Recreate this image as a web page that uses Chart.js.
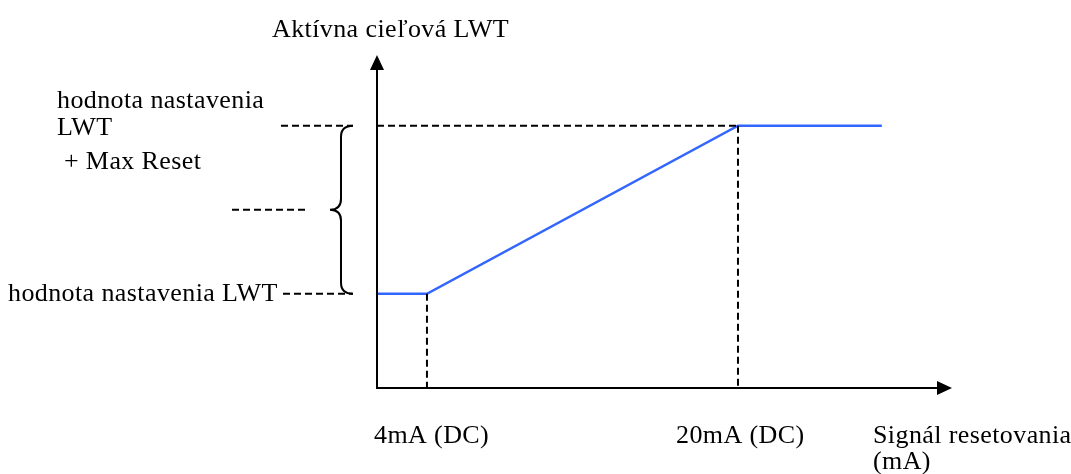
<!doctype html>
<html lang="sk">
<head>
    <meta charset="UTF-8">
    <script src="https://cdn.jsdelivr.net/npm/chart.js"></script>
    <title>Aktívna cieľová LWT</title>
    <style>
        html, body { margin: 0; padding: 0; background: #fff; }
    </style>
</head>
<body>
    <canvas id="chart" width="1071" height="474"></canvas>
    <script>
        // signal in mA, LWT as fraction of max reset (0 = setpoint, 1 = setpoint + max reset)
        const signal = [1.43, 4, 20, 27.4];
        const lwt = [0, 0, 1, 1];
        const xTicks = ['4mA (DC)', '20mA (DC)'];
        const xTickValues = [4, 20];
        const yLabels = [['hodnota nastavenia', 'LWT', ' + Max Reset'], ['hodnota nastavenia LWT']];

        const font = '26px "Liberation Serif", "Times New Roman", serif';

        const sketch = {
            id: 'sketch',
            afterDraw(chart) {
                const ctx = chart.ctx;
                const x = chart.scales.x, y = chart.scales.y;
                const area = chart.chartArea;
                const x0 = area.left, yb = area.bottom;
                const yLow = y.getPixelForValue(lwt[0]);
                const yHigh = y.getPixelForValue(lwt[3]);
                const yMid = (yLow + yHigh) / 2;
                const x4 = x.getPixelForValue(xTickValues[0]);
                const x20 = x.getPixelForValue(xTickValues[1]);

                ctx.save();
                // axes
                ctx.strokeStyle = '#000';
                ctx.fillStyle = '#000';
                ctx.lineWidth = 2;
                ctx.beginPath();
                ctx.moveTo(x0, area.top + 12);
                ctx.lineTo(x0, yb);
                ctx.lineTo(area.right - 12, yb);
                ctx.stroke();
                ctx.beginPath();
                ctx.moveTo(x0, area.top);
                ctx.lineTo(x0 - 7, area.top + 15);
                ctx.lineTo(x0 + 7, area.top + 15);
                ctx.closePath();
                ctx.fill();
                ctx.beginPath();
                ctx.moveTo(area.right, yb);
                ctx.lineTo(area.right - 15, yb - 7);
                ctx.lineTo(area.right - 15, yb + 7);
                ctx.closePath();
                ctx.fill();

                // dashed guides
                ctx.lineWidth = 2;
                ctx.setLineDash([7, 4]);
                ctx.beginPath();
                ctx.moveTo(x4, yLow); ctx.lineTo(x4, yb);
                ctx.moveTo(x20, yHigh); ctx.lineTo(x20, yb);
                ctx.moveTo(x0, yHigh); ctx.lineTo(x20, yHigh);
                ctx.moveTo(281, yHigh); ctx.lineTo(353, yHigh);
                ctx.moveTo(232, yMid); ctx.lineTo(306, yMid);
                ctx.moveTo(283, yLow); ctx.lineTo(353, yLow);
                ctx.stroke();
                ctx.setLineDash([]);

                // brace
                ctx.lineWidth = 2;
                const bx = 341, r = 11;
                ctx.beginPath();
                ctx.moveTo(353, yHigh);
                ctx.quadraticCurveTo(bx, yHigh, bx, yHigh + r);
                ctx.lineTo(bx, yMid - r);
                ctx.quadraticCurveTo(bx, yMid, 330, yMid);
                ctx.quadraticCurveTo(bx, yMid, bx, yMid + r);
                ctx.lineTo(bx, yLow - r);
                ctx.quadraticCurveTo(bx, yLow, 353, yLow);
                ctx.stroke();

                // texts
                ctx.font = font;
                ctx.letterSpacing = '0.4px';
                ctx.textAlign = 'left';
                ctx.textBaseline = 'alphabetic';
                ctx.fillText('Aktívna cieľová LWT', 272, 37);
                ctx.fillText(yLabels[0][0], 57, 108);
                ctx.fillText(yLabels[0][1], 57, 135);
                ctx.fillText(yLabels[0][2], 57, 169);
                ctx.fillText(yLabels[1][0], 8, 301);
                ctx.fillText(xTicks[0], 374, 443);
                ctx.fillText(xTicks[1], 676, 443);
                ctx.fillText('Signál resetovania', 873, 443);
                ctx.fillText('(mA)', 873, 469);
                ctx.restore();
            }
        };

        new Chart(document.getElementById('chart').getContext('2d'), {
            type: 'line',
            data: {
                datasets: [{
                    data: signal.map((s, i) => ({ x: s, y: lwt[i] })),
                    borderColor: '#3366ff',
                    borderWidth: 2.5,
                    pointRadius: 0,
                    tension: 0,
                    fill: false
                }]
            },
            options: {
                responsive: false,
                animation: false,
                devicePixelRatio: 1,
                layout: { padding: { left: 377, right: 119, top: 55, bottom: 86 } },
                plugins: { legend: { display: false }, tooltip: { enabled: false } },
                scales: {
                    x: { type: 'linear', min: 1.43, max: 31.01, display: false },
                    y: { type: 'linear', min: -0.56, max: 1.42, display: false }
                }
            },
            plugins: [sketch]
        });
    </script>
</body>
</html>
